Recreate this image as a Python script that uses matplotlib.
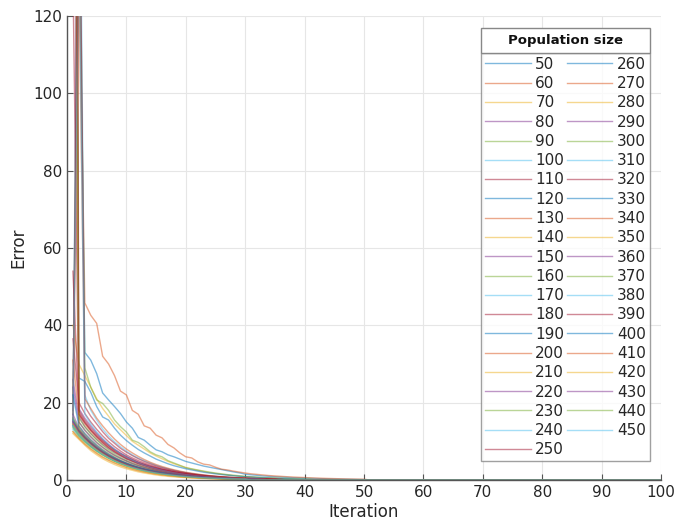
import numpy as np
import matplotlib
matplotlib.use('Agg')
import matplotlib.pyplot as plt
from matplotlib.patches import Rectangle

# population sizes shown in the legend
pop_sizes = list(range(50, 460, 10))

# error per iteration (iteration 1, 2, ...); after the listed values every
# curve lies on 0 up to iteration 100
err_50 = [18.0, 150.0, 33.0, 31.0, 27.5, 22.5, 20.7, 19.0, 17.2, 15.0, 13.4, 11.0, 10.3, 9.0, 7.8, 7.3, 6.5, 6.0, 5.4, 4.8,
          4.4, 4.0, 3.6, 3.3, 3.0, 2.7, 2.4, 2.1, 1.85, 1.5, 1.35, 1.2, 1.05, 0.95, 0.85, 0.75, 0.68, 0.6, 0.54, 0.48,
          0.42, 0.37, 0.33, 0.29, 0.25, 0.22, 0.19, 0.16, 0.13, 0.1]
err_60 = [20.0, 140.0, 45.8, 42.6, 40.5, 32.0, 30.0, 27.0, 23.0, 22.0, 18.0, 17.0, 14.0, 13.4, 11.6, 10.9, 9.2, 8.3, 7.0, 6.0,
          5.7, 4.7, 4.1, 3.9, 3.3, 2.8, 2.6, 2.3, 2.05, 1.8, 1.6, 1.45, 1.3, 1.15, 1.05, 0.95, 0.85, 0.77, 0.7, 0.63,
          0.56, 0.5, 0.45, 0.4, 0.36, 0.32, 0.28, 0.25, 0.22, 0.2]
err_70 = [40.0, 30.0, 27.0, 24.0, 21.0, 18.5, 16.5, 14.5, 13.0, 11.5, 10.0, 9.0, 8.0, 7.0, 6.2, 5.5, 4.8, 4.2, 3.7, 3.2,
          2.8, 2.5, 2.2, 1.9, 1.7, 1.5, 1.3, 1.1, 1.0, 0.85, 0.75, 0.65, 0.55, 0.5, 0.42, 0.36, 0.3, 0.25, 0.2]
err_80 = [26.0, 16.5, 13.8, 12.0, 10.5, 9.2, 8.1, 7.1, 6.3, 5.5, 4.9, 4.3, 3.8, 3.3, 2.9, 2.6, 2.3, 2.0, 1.75, 1.55,
          1.35, 1.2, 1.05, 0.92, 0.8, 0.7, 0.6, 0.52, 0.45, 0.39, 0.34, 0.29, 0.25, 0.21, 0.18]
err_90 = [17.0, 170.0, 29.0, 24.0, 20.7, 19.8, 18.0, 15.5, 13.8, 12.4, 10.3, 9.7, 8.6, 7.3, 6.5, 6.0, 5.0, 4.4, 3.8, 3.2,
          2.9, 2.6, 2.3, 2.05, 1.8, 1.6, 1.4, 1.25, 1.1, 0.95, 0.85, 0.75, 0.65, 0.57, 0.5, 0.44, 0.38, 0.33, 0.28, 0.24, 0.2]
err_100 = [15.5, 200.0, 22.0, 18.0, 15.5, 13.2, 11.4, 9.9, 8.6, 7.5, 6.5, 5.7, 5.0, 4.4, 3.8, 3.3, 2.9, 2.5, 2.2, 1.9,
           1.65, 1.45, 1.25, 1.1, 0.95, 0.82, 0.71, 0.62, 0.54, 0.47, 0.4, 0.35, 0.3, 0.26, 0.22, 0.19]
err_110 = [130.0, 17.5, 15.0, 13.0, 11.4, 10.0, 8.8, 7.7, 6.8, 6.0, 5.3, 4.6, 4.1, 3.6, 3.2, 2.8, 2.5, 2.2, 1.9, 1.7,
           1.5, 1.3, 1.15, 1.0, 0.88, 0.77, 0.67, 0.58, 0.5, 0.44, 0.38, 0.33, 0.28, 0.24, 0.2]
err_120 = [300.0, 26.4, 25.5, 22.7, 19.0, 16.3, 15.5, 13.4, 11.6, 10.2, 9.0, 7.9, 7.0, 6.2, 5.4, 4.8, 4.2, 3.7, 3.3, 2.9,
           2.6, 2.3, 2.0, 1.8, 1.6, 1.4, 1.25, 1.1, 0.95, 0.85, 0.75, 0.65, 0.57, 0.5, 0.43, 0.37, 0.32, 0.27, 0.23, 0.2]
err_130 = [31.0, 17.0, 14.5, 12.6, 11.0, 9.6, 8.4, 7.4, 6.5, 5.7, 5.0, 4.4, 3.9, 3.4, 3.0, 2.65, 2.35, 2.05, 1.8, 1.6,
           1.4, 1.22, 1.07, 0.94, 0.82, 0.71, 0.62, 0.54, 0.47, 0.41, 0.35, 0.3, 0.26, 0.22, 0.19]
err_140 = [500.0, 14.0, 12.0, 10.4, 9.1, 7.9, 6.9, 6.0, 5.2, 4.5, 3.9, 3.4, 3.0, 2.6, 2.25, 1.95, 1.7, 1.48, 1.28, 1.1,
           0.95, 0.82, 0.71, 0.61, 0.52, 0.45, 0.39, 0.33, 0.28, 0.24, 0.2, 0.17]
err_150 = [200.0, 18.5, 16.0, 14.0, 12.2, 10.6, 9.2, 8.0, 7.0, 6.1, 5.3, 4.6, 4.0, 3.5, 3.05, 2.65, 2.3, 2.0, 1.75, 1.52,
           1.32, 1.15, 1.0, 0.87, 0.76, 0.66, 0.57, 0.5, 0.43, 0.37, 0.32, 0.27, 0.23, 0.2]
err_160 = [400.0, 15.0, 13.0, 11.3, 9.8, 8.5, 7.4, 6.4, 5.6, 4.9, 4.2, 3.7, 3.2, 2.8, 2.4, 2.1, 1.82, 1.58, 1.37, 1.19,
           1.03, 0.9, 0.78, 0.67, 0.58, 0.5, 0.43, 0.37, 0.32, 0.27, 0.23, 0.2]
err_170 = [14.5, 12.2, 10.6, 9.2, 8.0, 7.0, 6.1, 5.3, 4.6, 4.0, 3.5, 3.05, 2.65, 2.3, 2.0, 1.75, 1.52, 1.32, 1.15, 1.0,
           0.87, 0.75, 0.65, 0.56, 0.49, 0.42, 0.36, 0.31, 0.27, 0.23, 0.2, 0.17]
err_180 = [36.5, 20.0, 17.2, 15.0, 13.1, 11.4, 9.9, 8.6, 7.5, 6.5, 5.7, 5.0, 4.4, 3.85, 3.35, 2.9, 2.55, 2.2, 1.95, 1.7,
           1.48, 1.3, 1.13, 0.98, 0.85, 0.74, 0.64, 0.56, 0.48, 0.42, 0.36, 0.31, 0.27, 0.23, 0.2]
err_190 = [16.0, 13.0, 11.2, 9.7, 8.4, 7.3, 6.3, 5.5, 4.8, 4.2, 3.65, 3.2, 2.8, 2.45, 2.15, 1.88, 1.64, 1.43, 1.25, 1.09,
           0.95, 0.83, 0.72, 0.63, 0.55, 0.48, 0.42, 0.36, 0.31, 0.27, 0.23, 0.2]
err_200 = [14.0, 130.0, 21.0, 18.5, 16.0, 14.0, 12.2, 10.6, 9.2, 8.0, 7.0, 6.1, 5.3, 4.6, 4.0, 3.5, 3.05, 2.65, 2.3, 2.0,
           1.75, 1.52, 1.32, 1.15, 1.0, 0.87, 0.76, 0.66, 0.57, 0.5, 0.43, 0.37, 0.32, 0.28, 0.24, 0.2]
err_210 = [250.0, 13.0, 11.0, 9.5, 8.2, 7.1, 6.1, 5.3, 4.6, 4.0, 3.45, 3.0, 2.6, 2.25, 1.95, 1.68, 1.45, 1.25, 1.08, 0.93,
           0.8, 0.69, 0.6, 0.52, 0.45, 0.38, 0.33, 0.28, 0.24, 0.2]
err_220 = [15.0, 12.5, 10.8, 9.4, 8.2, 7.1, 6.2, 5.4, 4.7, 4.1, 3.55, 3.1, 2.7, 2.35, 2.05, 1.78, 1.55, 1.35, 1.17, 1.02,
           0.89, 0.77, 0.67, 0.58, 0.5, 0.43, 0.37, 0.32, 0.28, 0.24, 0.2]
err_230 = [350.0, 16.0, 13.8, 12.0, 10.4, 9.0, 7.8, 6.8, 5.9, 5.1, 4.45, 3.85, 3.35, 2.9, 2.5, 2.18, 1.9, 1.65, 1.43, 1.24,
           1.08, 0.94, 0.81, 0.7, 0.61, 0.53, 0.46, 0.4, 0.34, 0.29, 0.25, 0.21]
err_240 = [13.5, 11.5, 10.0, 8.7, 7.6, 6.6, 5.7, 4.95, 4.3, 3.75, 3.25, 2.8, 2.45, 2.12, 1.84, 1.6, 1.39, 1.2, 1.04, 0.9,
           0.78, 0.68, 0.59, 0.51, 0.44, 0.38, 0.33, 0.28, 0.24, 0.2]
err_250 = [54.0, 18.0, 15.5, 13.5, 11.8, 10.3, 9.0, 7.8, 6.8, 5.9, 5.1, 4.45, 3.9, 3.4, 2.95, 2.57, 2.24, 1.95, 1.7, 1.48,
           1.29, 1.12, 0.97, 0.84, 0.73, 0.63, 0.55, 0.48, 0.41, 0.36, 0.31, 0.27, 0.23, 0.2]
err_260 = [14.0, 12.0, 10.3, 8.9, 7.7, 6.7, 5.8, 5.0, 4.35, 3.8, 3.3, 2.85, 2.47, 2.14, 1.86, 1.61, 1.4, 1.21, 1.05, 0.91,
           0.79, 0.68, 0.59, 0.51, 0.44, 0.38, 0.33, 0.28, 0.24, 0.2]
err_270 = [15.5, 12.8, 11.0, 9.6, 8.3, 7.2, 6.3, 5.5, 4.8, 4.15, 3.6, 3.15, 2.75, 2.4, 2.08, 1.81, 1.57, 1.37, 1.19, 1.03,
           0.9, 0.78, 0.68, 0.59, 0.51, 0.44, 0.38, 0.33, 0.29, 0.25, 0.21]
err_280 = [12.0, 10.5, 9.0, 7.6, 6.5, 5.5, 4.7, 4.0, 3.4, 2.9, 2.5, 2.1, 1.8, 1.55, 1.3, 1.1, 0.95, 0.8, 0.7, 0.6,
           0.5, 0.43, 0.37, 0.32, 0.27, 0.23, 0.2, 0.17, 0.14, 0.12]
err_290 = [17.0, 13.5, 11.6, 10.0, 8.7, 7.5, 6.5, 5.7, 4.95, 4.3, 3.75, 3.25, 2.83, 2.46, 2.14, 1.86, 1.62, 1.41, 1.23, 1.07,
           0.93, 0.81, 0.7, 0.61, 0.53, 0.46, 0.4, 0.35, 0.3, 0.26, 0.22]
err_300 = [14.0, 11.8, 10.2, 8.8, 7.6, 6.6, 5.7, 4.9, 4.25, 3.7, 3.2, 2.77, 2.4, 2.08, 1.8, 1.56, 1.35, 1.17, 1.01, 0.88,
           0.76, 0.66, 0.57, 0.49, 0.43, 0.37, 0.32, 0.27, 0.23, 0.2]
err_310 = [13.0, 11.2, 9.8, 8.5, 7.4, 6.5, 5.7, 5.0, 4.4, 3.9, 3.4, 3.0, 2.6, 2.3, 2.0, 1.8, 1.6, 1.4, 1.2, 1.05,
           0.92, 0.8, 0.7, 0.62, 0.54, 0.47, 0.41, 0.36, 0.31, 0.27, 0.23, 0.2]
err_320 = [15.0, 180.0, 19.0, 16.5, 14.5, 12.5, 10.8, 9.5, 8.2, 7.2, 6.3, 5.5, 4.8, 4.2, 3.65, 3.2, 2.8, 2.45, 2.13, 1.86,
           1.62, 1.41, 1.23, 1.07, 0.93, 0.81, 0.7, 0.61, 0.53, 0.46, 0.4, 0.34, 0.3, 0.26, 0.22, 0.19]
err_330 = [15.5, 12.6, 10.9, 9.5, 8.2, 7.1, 6.2, 5.4, 4.7, 4.1, 3.55, 3.08, 2.68, 2.33, 2.02, 1.76, 1.53, 1.33, 1.15, 1.0,
           0.87, 0.76, 0.66, 0.57, 0.5, 0.43, 0.37, 0.32, 0.28, 0.24, 0.2]
err_340 = [12.5, 10.8, 9.3, 8.0, 6.9, 5.9, 5.1, 4.4, 3.8, 3.25, 2.8, 2.4, 2.07, 1.78, 1.53, 1.32, 1.14, 0.98, 0.84, 0.72,
           0.62, 0.53, 0.46, 0.4, 0.34, 0.29, 0.25, 0.21, 0.18, 0.15]
err_350 = [14.5, 12.0, 10.4, 9.0, 7.8, 6.8, 5.9, 5.1, 4.45, 3.87, 3.36, 2.92, 2.54, 2.21, 1.92, 1.67, 1.45, 1.26, 1.1, 0.95,
           0.83, 0.72, 0.62, 0.54, 0.47, 0.41, 0.35, 0.3, 0.26, 0.22, 0.19]
err_360 = [24.0, 15.0, 12.8, 11.1, 9.6, 8.4, 7.3, 6.4, 5.6, 4.9, 4.25, 3.7, 3.22, 2.8, 2.44, 2.12, 1.84, 1.6, 1.39, 1.21,
           1.05, 0.91, 0.79, 0.69, 0.6, 0.52, 0.45, 0.39, 0.34, 0.29, 0.25, 0.21]
err_370 = [16.0, 13.2, 11.4, 9.9, 8.6, 7.5, 6.5, 5.65, 4.9, 4.25, 3.7, 3.2, 2.78, 2.42, 2.1, 1.82, 1.58, 1.37, 1.19, 1.03,
           0.9, 0.78, 0.68, 0.59, 0.51, 0.44, 0.38, 0.33, 0.29, 0.25, 0.21]
err_380 = [14.0, 140.0, 17.0, 14.5, 12.4, 10.7, 9.2, 7.9, 6.8, 5.9, 5.1, 4.4, 3.8, 3.3, 2.85, 2.46, 2.13, 1.84, 1.59, 1.37,
           1.19, 1.03, 0.89, 0.77, 0.67, 0.58, 0.5, 0.43, 0.37, 0.32, 0.28, 0.24, 0.2]
err_390 = [600.0, 17.0, 14.8, 12.9, 11.2, 9.7, 8.4, 7.3, 6.35, 5.5, 4.8, 4.15, 3.6, 3.12, 2.7, 2.35, 2.03, 1.76, 1.53, 1.32,
           1.15, 1.0, 0.86, 0.75, 0.65, 0.56, 0.48, 0.42, 0.36, 0.31, 0.27, 0.23, 0.2]
err_400 = [22.0, 14.0, 12.0, 10.4, 9.0, 7.8, 6.75, 5.85, 5.05, 4.4, 3.8, 3.3, 2.85, 2.47, 2.14, 1.85, 1.6, 1.39, 1.2, 1.04,
           0.9, 0.78, 0.68, 0.59, 0.51, 0.44, 0.38, 0.33, 0.28, 0.24, 0.21]
err_410 = [14.5, 12.3, 10.6, 9.2, 7.95, 6.9, 6.0, 5.2, 4.5, 3.9, 3.4, 2.95, 2.56, 2.22, 1.93, 1.67, 1.45, 1.26, 1.09, 0.95,
           0.82, 0.71, 0.62, 0.54, 0.47, 0.4, 0.35, 0.3, 0.26, 0.22, 0.19]
err_420 = [12.5, 10.9, 9.4, 8.1, 7.0, 6.0, 5.2, 4.45, 3.85, 3.3, 2.85, 2.45, 2.1, 1.8, 1.55, 1.33, 1.15, 0.99, 0.85, 0.73,
           0.63, 0.54, 0.46, 0.4, 0.34, 0.29, 0.25, 0.21, 0.18, 0.15]
err_430 = [15.0, 12.8, 11.1, 9.6, 8.35, 7.25, 6.3, 5.45, 4.75, 4.12, 3.58, 3.1, 2.7, 2.34, 2.03, 1.77, 1.53, 1.33, 1.16, 1.0,
           0.87, 0.76, 0.66, 0.57, 0.5, 0.43, 0.37, 0.32, 0.28, 0.24, 0.2]
err_440 = [13.5, 11.4, 9.9, 8.6, 7.45, 6.45, 5.6, 4.85, 4.2, 3.65, 3.15, 2.73, 2.37, 2.05, 1.78, 1.54, 1.34, 1.16, 1.0, 0.87,
           0.75, 0.65, 0.57, 0.49, 0.42, 0.37, 0.32, 0.27, 0.23, 0.2]
err_450 = [14.0, 11.9, 10.3, 8.9, 7.7, 6.65, 5.75, 4.98, 4.3, 3.72, 3.22, 2.79, 2.41, 2.09, 1.81, 1.57, 1.36, 1.18, 1.02, 0.88,
           0.76, 0.66, 0.57, 0.5, 0.43, 0.37, 0.32, 0.28, 0.24, 0.2]

errors = [err_50, err_60, err_70, err_80, err_90, err_100, err_110, err_120, err_130, err_140,
          err_150, err_160, err_170, err_180, err_190, err_200, err_210, err_220, err_230, err_240,
          err_250, err_260, err_270, err_280, err_290, err_300, err_310, err_320, err_330, err_340,
          err_350, err_360, err_370, err_380, err_390, err_400, err_410, err_420, err_430, err_440,
          err_450]

n_iter = 100

# MATLAB default colour order
colors = ['#0072BD', '#D95319', '#EDB120', '#7E2F8E', '#77AC30', '#4DBEEE', '#A2142F']

W, H = 678, 528
fig = plt.figure(figsize=(W / 100, H / 100), dpi=100)
ax = fig.add_axes([67 / W, 1 - 480 / H, 594 / W, 464 / H])

for i, (p, e) in enumerate(zip(pop_sizes, errors)):
    y = np.zeros(n_iter)
    y[:len(e)] = e
    ax.plot(np.arange(1, n_iter + 1), y, color=colors[i % 7], alpha=0.5,
            linewidth=1.0, label=str(p))

ax.set_xlim(0, 100)
ax.set_ylim(0, 120)
ax.set_xticks(np.arange(0, 101, 10))
ax.set_yticks(np.arange(0, 121, 20))
ax.grid(True, color='#e6e6e6', linewidth=0.8)
ax.set_axisbelow(True)
for s in ['top', 'right']:
    ax.spines[s].set_visible(False)
for s in ['left', 'bottom']:
    ax.spines[s].set_color('#555555')
    ax.spines[s].set_linewidth(1.0)
ax.tick_params(direction='in', length=4, colors='#555555', labelcolor='#262626',
               labelsize=11)
ax.set_xlabel('Iteration', fontsize=12, color='#262626', labelpad=2)
ax.set_ylabel('Error', fontsize=12, color='#262626', labelpad=4)

# legend entries box starts under the title box (top at 52 px)
leg = ax.legend(ncol=2, loc='upper left', bbox_to_anchor=(0.697, (480 - 53) / 464),
                fontsize=11, frameon=True, fancybox=False, edgecolor='#888888',
                handlelength=3.0, handletextpad=0.3, columnspacing=0.15,
                labelspacing=0.28, borderpad=0.25, borderaxespad=0)
leg.get_frame().set_linewidth(1.0)
for t in leg.get_texts():
    t.set_color('#262626')

# MATLAB style title box on top of the legend
fig.canvas.draw()
bb = leg.get_window_extent()
top = H - 28
fig.add_artist(Rectangle((bb.x0 / W, bb.y1 / H), (bb.x1 - bb.x0) / W, (top - bb.y1) / H,
                         transform=fig.transFigure, facecolor='white',
                         edgecolor='#888888', linewidth=1.0))
fig.text((bb.x0 + bb.x1) / 2 / W, (top + bb.y1) / 2 / H, 'Population size',
         ha='center', va='center', fontsize=9.5, fontweight='bold', color='#111111')

fig.savefig('out.png', dpi=100)
